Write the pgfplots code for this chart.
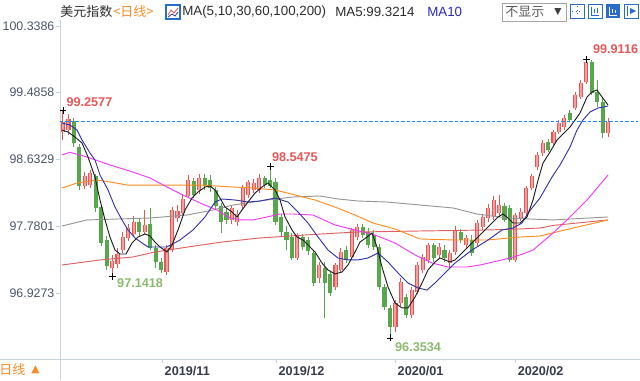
\documentclass[border=0pt]{standalone}
\usepackage{pgfplots}
\pgfplotsset{compat=1.18}
\usepackage{pgfplotstable}
\usepackage{fontspec}
\setmainfont{Liberation Sans}
\newfontfamily\cjk{Noto Sans CJK SC}
\newfontfamily\sym{DejaVu Sans}

\definecolor{upc}{RGB}{226,86,86}
\definecolor{upfill}{RGB}{242,160,160}
\definecolor{dnc}{RGB}{88,166,78}
\definecolor{ma5}{RGB}{30,30,30}
\definecolor{ma10}{RGB}{52,52,170}
\definecolor{ma30}{RGB}{240,60,240}
\definecolor{ma60}{RGB}{255,140,30}
\definecolor{ma100}{RGB}{224,96,96}
\definecolor{ma200}{RGB}{150,150,150}
\definecolor{lastblue}{RGB}{30,140,255}
\definecolor{axisgray}{RGB}{200,210,222}
\definecolor{tickcol}{RGB}{75,85,105}
\definecolor{datecol}{RGB}{55,60,75}
\definecolor{hicol}{RGB}{228,88,88}
\definecolor{locol}{RGB}{140,185,110}
\definecolor{orangec}{RGB}{245,140,40}
\definecolor{titlecol}{RGB}{45,45,45}
\definecolor{btnblue}{RGB}{40,110,200}

% up (red) candles: index open high low close
\pgfplotstableread{
i O H L C
0 98.983 99.2577 98.881 99.111
1 99.009 99.213 98.945 99.149
4 98.294 98.472 98.255 98.421
5 98.306 98.498 98.268 98.460
9 97.246 97.413 97.1418 97.336
10 97.298 97.502 97.246 97.425
11 97.476 97.706 97.438 97.642
12 97.630 97.809 97.591 97.757
13 97.681 97.911 97.642 97.834
15 97.706 97.987 97.681 97.796
19 97.195 97.540 97.157 97.502
20 97.476 98.025 97.451 97.987
21 97.885 98.051 97.834 97.974
22 97.949 98.191 97.911 98.128
23 98.166 98.434 98.140 98.370
25 98.243 98.447 98.191 98.396
31 97.860 98.051 97.809 98.013
32 97.834 97.987 97.783 97.936
33 98.038 98.306 97.987 98.268
34 98.179 98.370 98.140 98.345
35 98.243 98.383 98.204 98.332
36 98.243 98.447 98.204 98.396
43 97.374 97.693 97.349 97.655
47 97.119 97.323 97.055 97.285
50 97.004 97.310 96.965 97.285
51 97.221 97.502 97.183 97.451
53 97.387 97.757 97.349 97.732
54 97.642 97.809 97.604 97.770
61 96.493 96.838 96.429 96.799
62 96.799 97.119 96.761 97.068
64 96.646 97.004 96.608 96.965
65 96.940 97.323 96.914 97.285
66 97.221 97.425 97.183 97.387
67 97.349 97.566 97.310 97.540
69 97.413 97.566 97.374 97.515
71 97.310 97.476 97.246 97.438
72 97.451 97.783 97.413 97.732
74 97.540 97.668 97.502 97.630
76 97.566 97.860 97.528 97.821
77 97.770 97.936 97.732 97.898
78 97.885 98.064 97.834 98.013
79 97.898 98.166 97.860 98.115
80 97.949 98.179 97.911 98.051
83 97.349 97.949 97.323 97.923
84 97.885 98.013 97.847 97.962
85 97.949 98.294 97.911 98.268
86 98.268 98.447 98.243 98.421
87 98.536 98.728 98.498 98.690
88 98.715 98.881 98.677 98.843
90 98.843 99.009 98.792 98.983
91 98.983 99.137 98.958 99.098
92 99.047 99.200 99.009 99.162
94 99.290 99.494 99.264 99.456
95 99.430 99.648 99.405 99.609
96 99.622 99.9116 99.596 99.877
100 98.970 99.162 98.919 99.111
}\uptab

% down (green) candles
\pgfplotstableread{
i O H L C
2 99.124 99.162 98.792 98.843
3 98.792 98.830 98.243 98.294
6 98.421 98.447 97.962 98.013
7 98.025 98.051 97.528 97.566
8 97.604 97.655 97.221 97.272
14 97.834 97.885 97.655 97.706
16 97.809 98.013 97.476 97.502
17 97.502 97.540 97.246 97.323
18 97.323 97.374 97.183 97.221
24 98.357 98.396 98.140 98.179
26 98.396 98.447 98.243 98.294
27 98.370 98.434 98.217 98.268
28 98.243 98.281 97.987 98.038
29 98.038 98.077 97.693 97.834
30 97.962 98.013 97.809 97.860
37 98.396 98.421 98.268 98.306
38 98.370 98.5475 98.268 98.294
39 98.345 98.396 97.796 97.834
40 97.898 97.936 97.655 97.706
41 97.706 97.783 97.476 97.604
42 97.642 97.693 97.349 97.374
44 97.642 97.681 97.476 97.515
45 97.604 97.642 97.413 97.464
46 97.438 97.476 97.016 97.055
48 97.246 97.323 96.608 97.055
49 97.170 97.195 96.889 96.927
52 97.476 97.528 97.310 97.349
55 97.770 97.809 97.630 97.668
56 97.706 97.757 97.502 97.540
57 97.668 97.732 97.476 97.515
58 97.515 97.553 96.965 97.004
59 97.004 97.042 96.710 96.748
60 96.736 96.774 96.3534 96.493
63 96.876 96.914 96.608 96.646
68 97.540 97.566 97.323 97.374
70 97.476 97.540 97.323 97.374
73 97.706 97.745 97.566 97.604
75 97.604 97.668 97.400 97.438
81 98.038 98.077 97.834 97.860
82 98.013 98.051 97.323 97.349
89 98.856 98.894 98.728 98.754
93 99.226 99.264 99.111 99.137
97 99.877 99.903 99.456 99.481
98 99.494 99.648 99.303 99.366
99 99.366 99.418 98.907 98.970
}\dntab

\begin{document}
\begin{tikzpicture}
\useasboundingbox (0,0) rectangle (480pt,285pt);
\begin{axis}[
  at={(45pt,15.75pt)}, anchor=south west,
  scale only axis, width=433.5pt, height=254.25pt,
  xmin=-0.55, xmax=105.5, ymin=96.084, ymax=100.414,
  axis lines*=left,
  axis line style={draw=axisgray, line width=0.6pt},
  xtick={18.17,39.08,60.92,82.94},
  xticklabels={2019/11,2019/12,2020/01,2020/02},
  ytick={96.9273,97.7801,98.6329,99.4858,100.3386},
  yticklabels={96.9273,97.7801,98.6329,99.4858,100.3386},
  minor y tick num=4,
  tick align=outside,
  major tick length=3pt,
  minor tick length=2pt,
  tick style={draw=axisgray, line width=0.6pt},
  x tick label style={anchor=north west, font=\bfseries\fontsize{9.5}{10}\selectfont, text=datecol, xshift=-1.5pt, yshift=1pt},
  y tick label style={font=\fontsize{9.3}{10}\selectfont, text=tickcol, inner sep=1pt},
  clip=false,
]
% wicks
\addplot[draw=none, mark=none, forget plot,
  error bars/.cd, y dir=plus, y explicit, error mark=none,
  error bar style={draw=upc, line width=0.75pt}]
  table[x=i, y=L, y error expr=\thisrow{H}-\thisrow{L}] {\uptab};
\addplot[draw=none, mark=none, forget plot,
  error bars/.cd, y dir=plus, y explicit, error mark=none,
  error bar style={draw=dnc, line width=0.75pt}]
  table[x=i, y=L, y error expr=\thisrow{H}-\thisrow{L}] {\dntab};
% bodies
\addplot[draw=none, mark=none, forget plot,
  error bars/.cd, y dir=plus, y explicit, error mark=none,
  error bar style={draw=upc, line width=3.1pt}]
  table[x=i, y=O, y error expr=\thisrow{C}-\thisrow{O}] {\uptab};
\addplot[draw=none, mark=none, forget plot,
  error bars/.cd, y dir=plus, y explicit, error mark=none,
  error bar style={draw=upfill, line width=1.5pt}]
  table[x=i, y=O, y error expr=\thisrow{C}-\thisrow{O}] {\uptab};
\addplot[draw=none, mark=none, forget plot,
  error bars/.cd, y dir=plus, y explicit, error mark=none,
  error bar style={draw=dnc, line width=3.1pt}]
  table[x=i, y=C, y error expr=\thisrow{O}-\thisrow{C}] {\dntab};

% MA200
\addplot[draw=ma200, line width=0.7pt, mark=none] coordinates {
(-0.18,97.783) (4.40,97.860) (9.91,97.872) (15.96,97.885) (22.75,97.923) (27.52,97.987) (31.19,98.051) (37.43,98.115) (42.20,98.153) (47.16,98.166) (50.46,98.128) (54.13,98.102) (59.45,98.089) (65.50,98.051) (71.56,98.013) (75.96,97.936) (81.47,97.885) (89.91,97.860) (100.00,97.898)};
% MA100
\addplot[draw=ma100, line width=0.7pt, mark=none] coordinates {
(-0.18,97.285) (6.79,97.349) (12.84,97.387) (16.88,97.451) (22.94,97.515) (29.17,97.578) (36.15,97.630) (44.40,97.668) (50.46,97.693) (54.13,97.706) (65.50,97.719) (77.80,97.732) (83.85,97.745) (87.52,97.757) (89.91,97.790) (100.00,97.860)};
% MA60
\addplot[draw=ma60, line width=0.7pt, mark=none] coordinates {
(-0.18,98.268) (2.57,98.332) (6.24,98.370) (8.62,98.345) (11.74,98.306) (19.08,98.306) (25.14,98.306) (31.19,98.281) (34.86,98.268) (38.90,98.243) (42.57,98.179) (46.24,98.115) (49.91,98.025) (53.58,97.923) (56.88,97.821) (60.92,97.745) (65.50,97.617) (71.93,97.604) (77.80,97.604) (83.85,97.642) (87.52,97.655) (93.58,97.757) (100.00,97.860)};
% MA30
\addplot[draw=ma30, line width=0.7pt, mark=none] coordinates {
(-0.18,98.690) (1.28,98.724) (4.40,98.664) (8.62,98.562) (12.84,98.472) (15.96,98.396) (19.08,98.281) (22.02,98.179) (25.14,98.077) (28.26,97.987) (30.64,97.885) (32.48,97.860) (34.86,97.860) (37.43,97.898) (39.82,97.936) (42.20,97.936) (45.87,97.923) (49.91,97.796) (53.58,97.732) (57.25,97.668) (60.92,97.566) (64.59,97.413) (67.71,97.310) (70.64,97.259) (74.13,97.259) (76.51,97.285) (78.90,97.323) (82.02,97.374) (83.85,97.413) (86.24,97.476) (89.91,97.693) (92.48,97.860) (96.15,98.115) (100.00,98.434)};
% MA10
\addplot[draw=ma10, line width=0.7pt, mark=none] coordinates {
(-0.18,99.098) (1.28,99.073) (2.57,99.009) (3.49,98.881) (4.95,98.715) (5.87,98.626) (6.79,98.434) (8.26,98.243) (9.54,98.025) (10.83,97.860) (11.93,97.732) (13.21,97.630) (14.50,97.566) (15.60,97.515) (17.25,97.515) (19.08,97.515) (21.47,97.604) (23.85,97.732) (26.06,97.898) (27.89,98.089) (29.17,98.128) (31.56,98.115) (33.94,98.089) (36.15,98.102) (38.90,98.140) (41.28,98.089) (43.12,97.962) (44.95,97.821) (46.79,97.642) (48.62,97.476) (50.46,97.374) (52.29,97.349) (54.13,97.349) (55.96,97.374) (57.80,97.438) (59.63,97.323) (61.47,97.183) (63.30,97.055) (65.14,96.991) (66.79,96.965) (68.26,97.055) (70.09,97.183) (71.93,97.310) (75.05,97.476) (77.98,97.604) (80.55,97.732) (82.57,97.757) (84.22,97.821) (85.32,97.949) (87.52,98.140) (89.72,98.408) (91.19,98.562) (93.03,98.792) (94.31,99.009) (95.41,99.137) (96.70,99.239) (98.17,99.290) (100.00,99.315)};
% MA5
\addplot[draw=ma5, line width=0.7pt, mark=none] coordinates {
(-0.18,99.009) (0.92,98.983) (2.20,98.919) (3.49,98.843) (4.59,98.664) (5.87,98.408) (6.79,98.115) (7.71,97.860) (8.62,97.642) (9.54,97.476) (10.46,97.425) (11.56,97.425) (12.66,97.566) (13.76,97.642) (15.05,97.681) (15.96,97.655) (16.88,97.578) (17.80,97.515) (19.08,97.451) (20.00,97.540) (21.10,97.732) (22.39,97.987) (23.67,98.140) (24.77,98.217) (26.06,98.281) (26.97,98.294) (27.89,98.243) (28.81,98.140) (29.72,98.025) (31.01,97.962) (31.93,97.898) (32.84,97.987) (33.94,98.089) (35.23,98.204) (36.51,98.281) (37.61,98.332) (38.90,98.243) (39.82,98.115) (40.73,97.898) (42.02,97.732) (42.94,97.642) (44.04,97.604) (45.32,97.515) (46.24,97.451) (47.52,97.310) (48.62,97.221) (49.91,97.170) (51.19,97.195) (52.29,97.285) (53.58,97.451) (54.50,97.578) (55.78,97.642) (56.70,97.693) (57.61,97.515) (58.53,97.259) (59.63,97.004) (60.92,96.799) (62.20,96.736) (63.30,96.736) (64.59,96.876) (65.87,97.055) (66.97,97.221) (68.26,97.323) (69.17,97.374) (70.09,97.349) (71.01,97.323) (71.93,97.349) (74.31,97.515) (76.88,97.693) (78.72,97.821) (79.82,97.898) (80.73,97.936) (81.65,97.885) (82.57,97.821) (83.85,97.821) (85.14,97.898) (86.24,98.115) (87.16,98.370) (88.07,98.587) (89.36,98.728) (90.64,98.881) (91.19,98.919) (93.03,99.047) (94.86,99.226) (96.15,99.430) (97.06,99.494) (97.98,99.520) (98.90,99.430) (100.00,99.328)};

% last-price dashed line, drawn on top
\addplot[lastblue, line width=1pt, dash pattern=on 2.5pt off 1.5pt, mark=none, forget plot] coordinates {(-0.55,99.118) (105.5,99.118)};

% extreme markers
\addplot[only marks, mark=+, mark size=2.6pt, black, line width=0.6pt, forget plot] coordinates {(0,99.2577) (9,97.1418) (38,98.5475) (60,96.3534) (96,99.9116)};

\node[anchor=west, inner sep=0, text=hicol, font=\bfseries\fontsize{9.5}{10}\selectfont] at (axis cs:0.6,99.37) {99.2577};
\node[anchor=west, inner sep=0, text=hicol, font=\bfseries\fontsize{9.5}{10}\selectfont] at (axis cs:38.3,98.664) {98.5475};
\node[anchor=west, inner sep=0, text=hicol, font=\bfseries\fontsize{9.5}{10}\selectfont] at (axis cs:97.2,100.043) {99.9116};
\node[anchor=west, inner sep=0, text=locol, font=\bfseries\fontsize{9.5}{10}\selectfont] at (axis cs:9.9,97.055) {97.1418};
\node[anchor=west, inner sep=0, text=locol, font=\bfseries\fontsize{9.5}{10}\selectfont] at (axis cs:60.9,96.237) {96.3534};
\end{axis}

\begin{scope}[x=0.75pt, y=-0.75pt, shift={(0,285pt)}]
% header
\node[anchor=west, inner sep=0, text=titlecol, font=\cjk\fontsize{9.75}{11}\selectfont] at (60,12) {美元指数};
\node[anchor=west, inner sep=0, text=orangec, font=\cjk\fontsize{9.75}{11}\selectfont] at (113,12) {<日线>};
\draw[btnblue, line width=0.8pt] (166,5) rectangle (180,19);
\draw[upc, line width=0.6pt] (168,15)--(171,10)--(174,13)--(178,8);
\draw[ma10, line width=0.6pt] (168,17)--(172,14)--(175,16)--(178,12);
\node[anchor=west, inner sep=0, text=titlecol, font=\fontsize{10}{12}\selectfont] at (182,12) {MA(5,10,30,60,100,200)};
\node[anchor=west, inner sep=0, text=titlecol, font=\fontsize{10}{12}\selectfont] at (335,12) {MA5:99.3214};
\node[anchor=west, inner sep=0, text=ma10!80!blue, font=\fontsize{10}{12}\selectfont] at (427,12) {MA10};
% selector box
\draw[gray!70, line width=0.6pt] (502,3) rectangle (566,21);
\node[anchor=west, inner sep=0, text=black!65, font=\cjk\fontsize{9.75}{11}\selectfont] at (505,12) {不显示};
\node[anchor=west, inner sep=0, text=black!75, font=\sym\fontsize{7}{8}\selectfont] at (554,12) {▼};
% buttons
\draw[btnblue, line width=0.7pt] (570,4) rectangle (584,18);
\draw[btnblue, line width=0.7pt, dotted] (577,6)--(577,16) (572,11)--(582,11);
\draw[btnblue, line width=0.7pt] (588,4) rectangle (602,18);
\draw[btnblue, line width=0.7pt] (591,7)--(591,15)--(599,15) (594,9)--(594,13) (597,8)--(597,13);
\fill[btnblue] (606,4) rectangle (620,18);
\draw[white, line width=0.7pt] (609,7)--(609,15)--(617,15) (612,9)--(612,13) (615,10)--(615,13);
\draw[btnblue, line width=0.7pt] (624,4) rectangle (638,18);
\draw[btnblue, line width=0.7pt] (627,6)--(627,16);
\fill[btnblue] (630,8)--(636,11)--(630,14)--cycle;
% bottom strip
\draw[axisgray, line width=0.6pt] (0,359)--(640,359);
\draw[axisgray, line width=0.6pt] (60,359)--(60,380);
\node[anchor=west, inner sep=0, text=orangec, font=\cjk\fontsize{9.75}{11}\selectfont] at (-1,370) {日线};
\node[anchor=west, inner sep=0, text=orangec, font=\sym\fontsize{8}{9}\selectfont] at (31,370) {▲};
\end{scope}
\end{tikzpicture}
\end{document}
